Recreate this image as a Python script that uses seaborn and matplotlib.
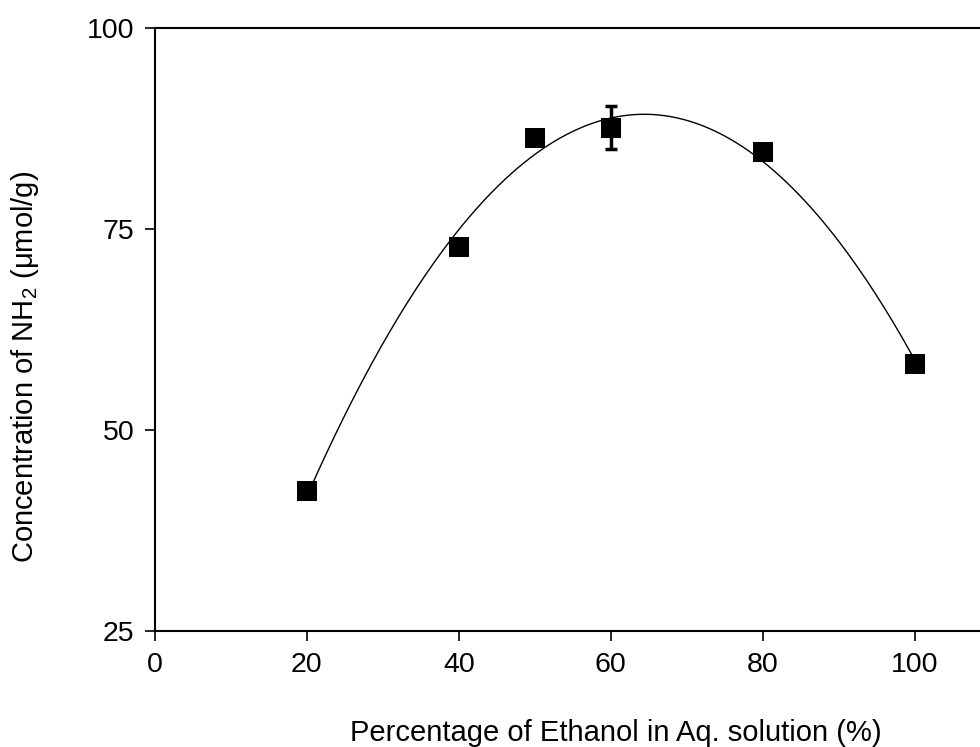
import numpy as np
import pandas as pd
import matplotlib
matplotlib.use("Agg")
import matplotlib.pyplot as plt
import seaborn as sns

sns.set_style("white")
plt.rcParams['font.family'] = ['Liberation Sans', 'DejaVu Sans']
plt.rcParams['mathtext.fontset'] = 'custom'
plt.rcParams['mathtext.rm'] = 'Liberation Sans'

ethanol = [20, 40, 50, 60, 80, 100]
nh2 = [42.4, 72.8, 86.3, 87.6, 84.6, 58.2]
nh2_err = [0, 0, 0, 2.7, 0, 0]
xticks = [0, 20, 40, 60, 80, 100]
yticks = [25, 50, 75, 100]

df = pd.DataFrame({"x": ethanol, "y": nh2, "err": nh2_err})

coef = np.polyfit(ethanol, nh2, 2)
xs = np.linspace(20, 100, 200)
fit = pd.DataFrame({"x": xs, "y": np.polyval(coef, xs)})

W, H = 980, 747
fig = plt.figure(figsize=(W / 100, H / 100), dpi=100)
ax = fig.add_axes([155 / W, (H - 631) / H, 1 - 155 / W, (631 - 28) / H])

sns.lineplot(data=fit, x="x", y="y", ax=ax, color="black", linewidth=1.0)
e = df[df.err > 0]
ax.errorbar(e.x, e.y, yerr=e.err, fmt="none", ecolor="black", elinewidth=2.5,
            capsize=4.5, capthick=2.5, zorder=3)
sns.scatterplot(data=df, x="x", y="y", ax=ax, marker="s", s=210, color="black",
                edgecolor="black", linewidth=0, zorder=4)

ax.set_xlim(0, 108.6)
ax.set_ylim(25, 100)
ax.set_xticks(xticks)
ax.set_yticks(yticks)
ax.tick_params(axis="both", direction="out", length=7, width=1.2, labelsize=20.5,
               color="black", labelcolor="black", bottom=True, left=True, pad=8)
for s in ["left", "bottom", "top"]:
    ax.spines[s].set_color("black")
    ax.spines[s].set_linewidth(1.5)
ax.spines["right"].set_visible(False)
ax.set_xlabel("")
ax.set_ylabel("")

fig.text(350 / W, (H - 741) / H, "Percentage of Ethanol in Aq. solution (%)",
         fontsize=21, ha="left", va="baseline", color="black")
fig.text(25 / W, (H - 367) / H, "Concentration of NH$_2$ (μmol/g)",
         fontsize=21, ha="center", va="center", rotation=90, color="black")

fig.savefig("out.png", dpi=100)
